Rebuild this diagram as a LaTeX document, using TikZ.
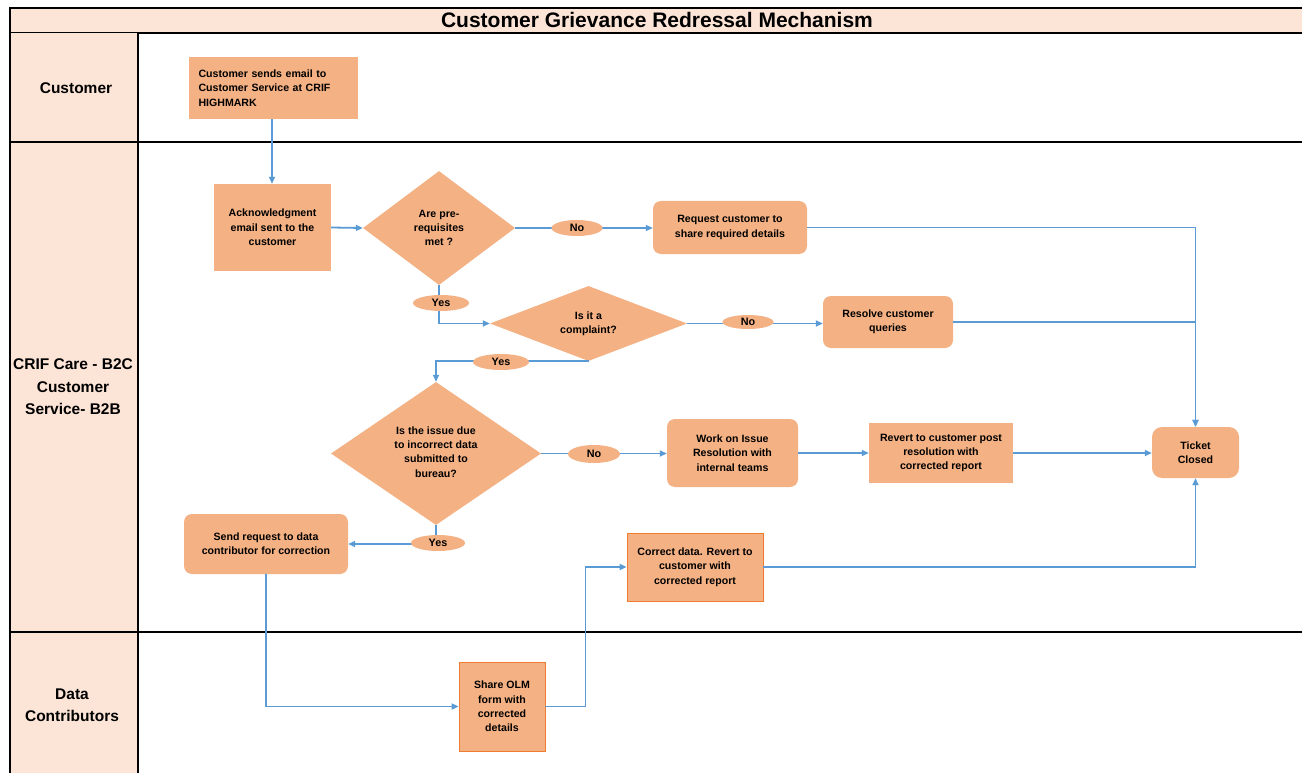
\documentclass[tikz,border=0pt]{standalone}
\usepackage{fontspec}
\setmainfont{Liberation Sans}
\usetikzlibrary{shapes.geometric,arrows.meta,calc}
\definecolor{boxfill}{RGB}{244,177,131}
\definecolor{lanefill}{RGB}{252,228,214}
\definecolor{conn}{RGB}{91,155,213}
\definecolor{boxedge}{RGB}{237,125,49}
\begin{document}
\begin{tikzpicture}[x=1pt,y=-1pt,
 boxtext/.style={font=\bfseries\fontsize{10.6}{14.4}\selectfont},
 box/.style={boxtext, fill=boxfill, draw=none, align=center, inner sep=0pt},
 rbox/.style={box, rounded corners=8pt},
 ebox/.style={box, draw=boxedge, line width=0.8pt},
 dia/.style={diamond, fill=boxfill, draw=none, inner sep=0pt},
 dtext/.style={boxtext, align=center, inner sep=0pt},
 lbl/.style={ellipse, fill=boxfill, inner sep=0pt, font=\bfseries\fontsize{10.8}{12}\selectfont},
 arr/.style={draw=conn, line width=1.8pt, -{Triangle[length=7pt,width=6pt]}},
 lanelbl/.style={align=center, inner sep=0pt, font=\bfseries\fontsize{15.5}{22.5}\selectfont},
 sep/.style={draw=black, line width=2.2pt},
 frame/.style={draw=black, line width=1.2pt}
]
\useasboundingbox (0,0) rectangle (1302,773);
\clip (0,0) rectangle (1302,773);
\fill[white] (0,0) rectangle (1302,773);
% title band
\fill[lanefill] (10,8) rectangle (1310,33);
\draw[frame] (10,8) rectangle (1310,33);
\node[font=\bfseries\fontsize{21}{24}\selectfont, inner sep=0pt] (title) at (657,20) {Customer Grievance Redressal Mechanism};
% lane label column
\fill[lanefill] (10,33) rectangle (138,780);
\draw[frame] (10,33) -- (10,780);
\draw[frame] (138,33) -- (138,780);
\draw[sep] (10,142) -- (1310,142);
\draw[sep] (10,632) -- (1310,632);
\node[lanelbl] (l1) at (76,88) {Customer};
\node[lanelbl] (l2) at (73,387) {CRIF Care - B2C\\Customer\\Service- B2B};
\node[lanelbl] (l3) at (72,705) {Data\\Contributors};

% boxes
\node[box, minimum width=169pt, minimum height=62pt, text width=150pt, align=left] (n1) at (273.5,88) {Customer sends email to\\Customer Service at CRIF\\HIGHMARK};
\node[box, minimum width=117pt, minimum height=87pt] (n2) at (272.5,227.5) {Acknowledgment\\email sent to the\\customer};
\node[dia, minimum width=152pt, minimum height=114pt] (d1) at (439,228) {};
\node[dtext] (d1t) at (d1.center) {Are pre-\\requisites\\met ?};
\node[rbox, minimum width=154pt, minimum height=53pt] (n3) at (730,227.5) {Request customer to\\share required details};
\node[dia, minimum width=197pt, minimum height=75pt] (d2) at (588.5,323.5) {};
\node[dtext] (d2t) at (d2.center) {Is it a\\complaint?};
\node[rbox, minimum width=130pt, minimum height=52pt] (n4) at (888,322) {Resolve customer\\queries};
\node[dia, minimum width=210pt, minimum height=143pt] (d3) at (436,453.5) {};
\node[dtext] (d3t) at ([yshift=1.5pt]d3.center) {Is the issue due\\to incorrect data\\submitted to\\bureau?};
\node[rbox, minimum width=131pt, minimum height=68pt] (n5) at (732.5,453) {Work on Issue\\Resolution with\\internal teams};
\node[box, minimum width=144pt, minimum height=60pt] (n6) at (941,453) {Revert to customer post\\resolution with\\corrected report};
\node[rbox, rounded corners=10pt, minimum width=87pt, minimum height=51pt] (n7) at (1195.5,452.5) {Ticket\\Closed};
\node[rbox, minimum width=164pt, minimum height=60pt] (n8) at (266,544) {Send request to data\\contributor for correction};
\node[ebox, minimum width=136pt, minimum height=68pt] (n9) at (695,567) {Correct data. Revert to\\customer with\\corrected report};
\node[ebox, minimum width=86pt, minimum height=89pt] (n10) at (502,706.5) {Share OLM\\form with\\corrected\\details};

% connectors
\draw[arr] (n1.south -| 272,0) -- (n2.north -| 272,0);
\draw[arr] (n2.east) -- (d1.west);
\draw[arr] (d1.east) -- (d1.east -| n3.west);
\draw[arr] (n3.east) -| (n7.north);
\draw[arr] (d1.south) |- (d2.west);
\draw[arr] (d2.east) -- (d2.east -| n4.west);
\draw[arr] (n4.east) -| (n7.north);
\draw[arr] (d2.south) -| (d3.north);
\draw[arr] (d3.east) -- (d3.east -| n5.west);
\draw[arr] (n5.east) -- (n5.east -| n6.west);
\draw[arr] (n6.east) -- (n6.east -| n7.west);
\draw[arr] (d3.south) |- (n8.east);
\draw[arr] (n8.south) |- (n10.west);
\draw[arr] (n10.east) -- ++(40,0) |- (n9.west);
\draw[arr] (n9.east) -| (n7.south);

% branch labels
\node[lbl, minimum width=51pt, minimum height=16pt] (no1) at (577,228) {No};
\node[lbl, minimum width=56pt, minimum height=16pt] (yes1) at (441,303) {Yes};
\node[lbl, minimum width=51pt, minimum height=14pt] (no2) at (748,322) {No};
\node[lbl, minimum width=56pt, minimum height=16pt] (yes2) at (501,362) {Yes};
\node[lbl, minimum width=52pt, minimum height=18pt] (no3) at (594,454) {No};
\node[lbl, minimum width=54pt, minimum height=16pt] (yes3) at (438,543) {Yes};
\end{tikzpicture}
\end{document}
